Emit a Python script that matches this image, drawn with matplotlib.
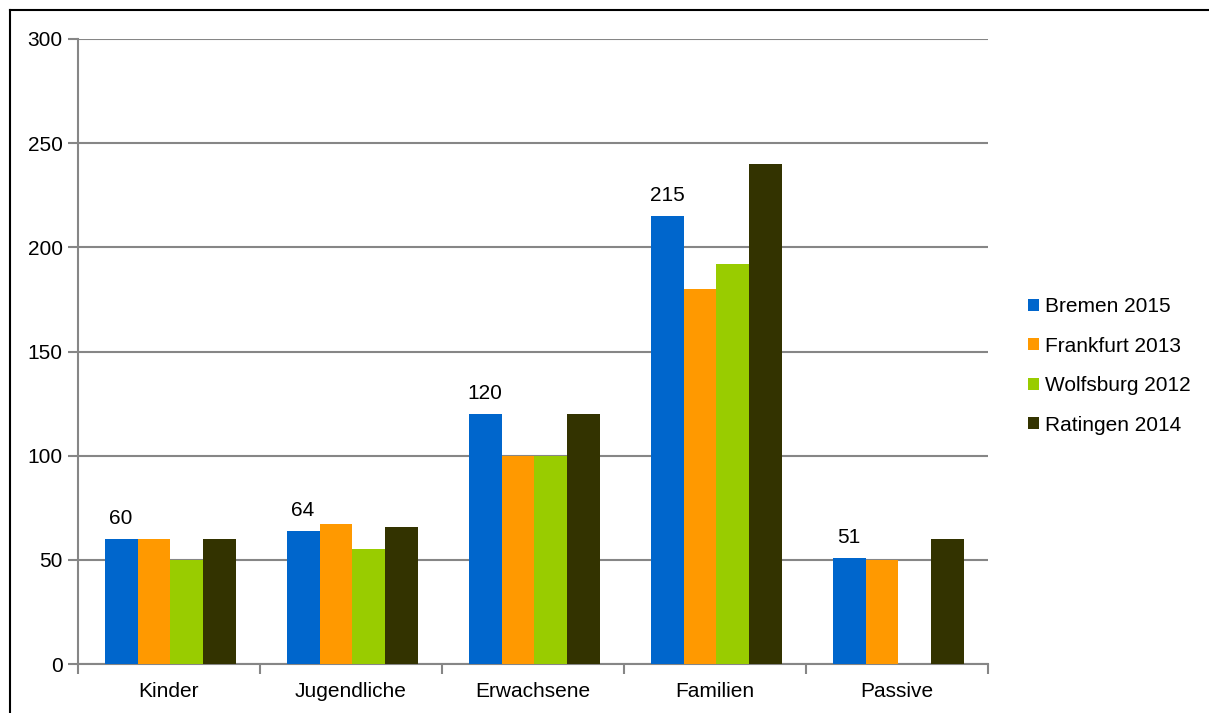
import numpy as np
import matplotlib.pyplot as plt
from matplotlib.lines import Line2D

plt.rcParams['font.family'] = ['Liberation Sans', 'DejaVu Sans']

# data
categories = ['Kinder', 'Jugendliche', 'Erwachsene', 'Familien', 'Passive']
series_names = ['Bremen 2015', 'Frankfurt 2013', 'Wolfsburg 2012', 'Ratingen 2014']
bremen = [60, 64, 120, 215, 51]
frankfurt = [60, 67, 100, 180, 50]
wolfsburg = [50, 55, 100, 192, 0]
ratingen = [60, 66, 120, 240, 60]
colors = ['#0066cc', '#ff9900', '#99cc00', '#333300']

fig = plt.figure(figsize=(12.09, 7.13), dpi=100)
ax = fig.add_axes([78 / 1209, 1 - 664 / 713, (988 - 78) / 1209, (664 - 39) / 713])

x = np.arange(len(categories))
width = 0.181
all_series = [bremen, frankfurt, wolfsburg, ratingen]
bar_sets = []
for i, (vals, name, c) in enumerate(zip(all_series, series_names, colors)):
    bars = ax.bar(x + (i - 1.5) * width + 0.008, vals, width, color=c, label=name, zorder=3)
    bar_sets.append(bars)

# only the Bremen series carries labels
ax.bar_label(bar_sets[0], labels=[str(v) for v in bremen], padding=8, fontsize=15)

grid_col = '#868686'
ax.set_xlim(-0.5, len(categories) - 0.5)
ax.set_ylim(0, 300)
ax.set_yticks(range(0, 301, 50))
ax.yaxis.grid(True, color=grid_col, linewidth=1.5, zorder=0)
ax.set_axisbelow(True)

ax.set_xticks(x)
ax.set_xticklabels(categories)
ax.set_xticks(np.arange(-0.5, len(categories), 1), minor=True)
ax.tick_params(axis='x', which='major', length=0, pad=13, labelsize=15)
ax.tick_params(axis='x', which='minor', length=7, width=1.5, color=grid_col)
ax.tick_params(axis='y', length=7, width=1.5, color=grid_col, pad=4, labelsize=15)

for side in ['top', 'right']:
    ax.spines[side].set_visible(False)
for side in ['left', 'bottom']:
    ax.spines[side].set_color(grid_col)
    ax.spines[side].set_linewidth(1.5)

ax.legend(loc='center left', bbox_to_anchor=(1020 / 1209, 1 - 366 / 713),
          bbox_transform=fig.transFigure, frameon=False, fontsize=15,
          handlelength=0.5, handleheight=0.5, handletextpad=0.3,
          labelspacing=0.98, borderaxespad=0)

# outer frame (cut at the right and bottom in the reference)
fig.add_artist(Line2D([10 / 1209, 1.0], [1 - 10 / 713, 1 - 10 / 713], color='black',
                      linewidth=1.5, transform=fig.transFigure))
fig.add_artist(Line2D([10 / 1209, 10 / 1209], [0, 1 - 10 / 713], color='black',
                      linewidth=1.5, transform=fig.transFigure))

fig.savefig('out.png', dpi=100)
